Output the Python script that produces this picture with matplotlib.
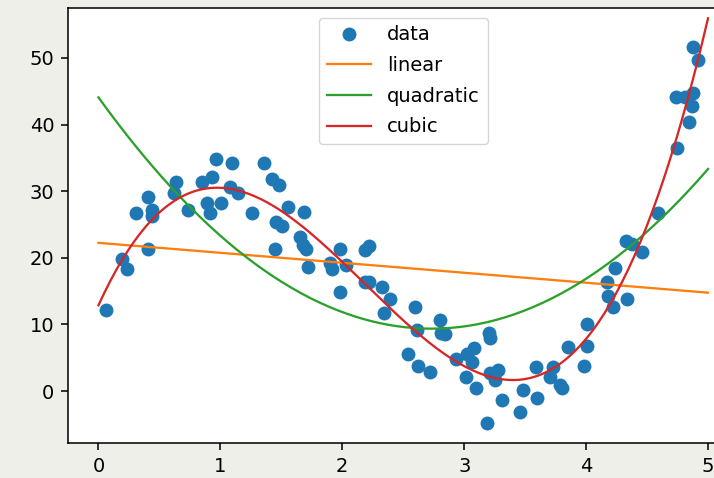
import numpy as np
import matplotlib
matplotlib.use("Agg")
import matplotlib.pyplot as plt

# scattered points
x_data = [0.063, 0.194, 0.23, 0.309, 0.407, 0.407, 0.44, 0.44, 0.617, 0.637,
          0.735, 0.85, 0.891, 0.918, 0.932, 0.967, 1.008, 1.082, 1.096, 1.145,
          1.26, 1.36, 1.424, 1.451, 1.459, 1.478, 1.506, 1.555, 1.65, 1.677,
          1.683, 1.705, 1.719, 1.896, 1.915, 1.978, 1.978, 2.033, 2.184, 2.215,
          2.19, 2.215, 2.325, 2.339, 2.393, 2.538, 2.598, 2.61, 2.62, 2.72,
          2.803, 2.811, 2.84, 2.934, 3.016, 3.022, 3.063, 3.077, 3.098, 3.19,
          3.2, 3.21, 3.213, 3.254, 3.28, 3.309, 3.459, 3.486, 3.588, 3.601,
          3.705, 3.732, 3.787, 3.8, 3.85, 3.984, 4.01, 4.01, 4.17, 4.178,
          4.219, 4.238, 4.328, 4.333, 4.377, 4.456, 4.593, 4.748, 4.738, 4.811,
          4.847, 4.866, 4.88, 4.88, 4.915]
y_data = [12.2, 19.8, 18.3, 26.7, 29.1, 21.3, 27.2, 26.3, 29.7, 31.4,
          27.2, 31.4, 28.2, 26.7, 32.1, 34.8, 28.2, 30.7, 34.2, 29.7,
          26.7, 34.2, 31.8, 21.3, 25.4, 30.9, 24.8, 27.6, 23.1, 21.9,
          26.9, 21.3, 18.6, 19.2, 18.3, 21.3, 14.9, 18.9, 21.2, 21.7,
          16.4, 16.4, 15.6, 11.7, 13.8, 5.6, 12.6, 9.2, 3.8, 2.9,
          10.6, 8.7, 8.6, 4.8, 2.1, 5.6, 4.4, 6.4, 0.4, -4.85,
          8.7, 7.9, 2.7, 1.7, 3.2, -1.35, -3.1, 0.15, 3.6, -1.0,
          2.1, 3.6, 0.9, 0.4, 6.6, 3.8, 6.8, 10.1, 16.4, 14.2,
          12.6, 18.4, 22.5, 13.8, 22.1, 20.9, 26.7, 36.5, 44.1, 44.1,
          40.4, 42.8, 44.8, 51.6, 49.7]

fit_names = ["linear", "quadratic", "cubic"]
fit_degrees = [1, 2, 3]

scale = 1.4
plt.rcParams["font.size"] = 10 * scale
plt.rcParams["axes.linewidth"] = 0.8 * scale
for ax_name in ["xtick", "ytick"]:
    plt.rcParams[ax_name + ".major.size"] = 3.5 * scale
    plt.rcParams[ax_name + ".major.width"] = 0.8 * scale
    plt.rcParams[ax_name + ".major.pad"] = 3.5 * scale

fig = plt.figure(figsize=(7.14, 4.78), dpi=100, facecolor="#efefea")
ax = fig.add_axes([68 / 714, 35 / 478, 670.5 / 714, 435 / 478])

x = np.array(x_data)
y = np.array(y_data)
ax.plot(x, y, "o", markersize=9, label="data")

xs = np.linspace(0, 5, 200)
for name, deg in zip(fit_names, fit_degrees):
    coef = np.polyfit(x, y, deg)
    ax.plot(xs, np.polyval(coef, xs), linewidth=1.65, label=name)

ax.set_xlim(-0.25, 5.25)
ax.set_ylim(-7.8, 57.5)
ax.legend(loc="upper center", handlelength=2.3, labelspacing=0.6)
fig.savefig("out.png", dpi=100, facecolor=fig.get_facecolor())
